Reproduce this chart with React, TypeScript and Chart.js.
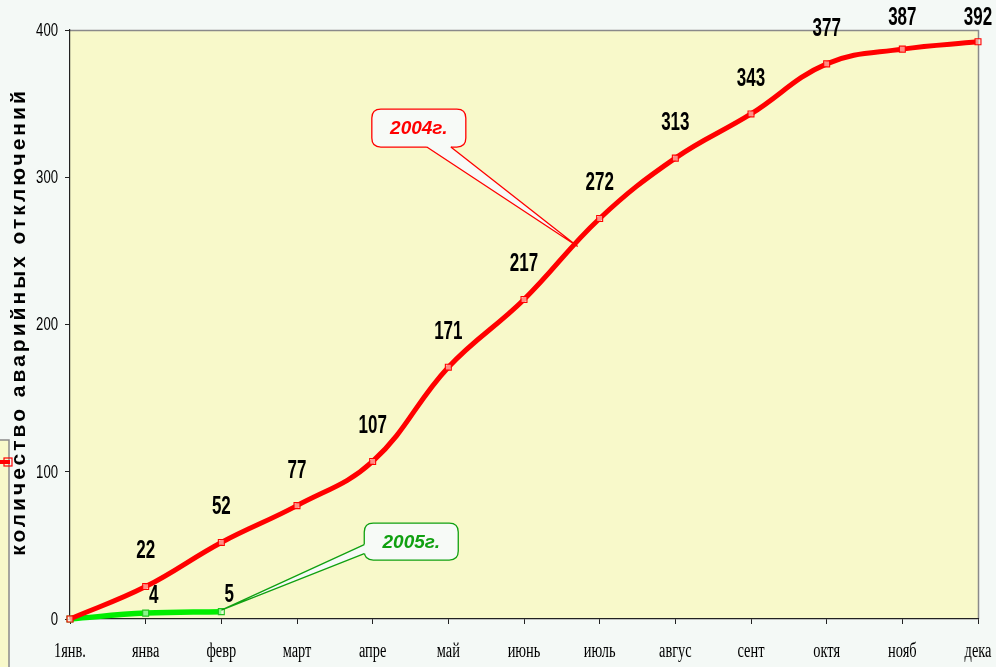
import React, { useEffect, useRef } from 'react';
import { Chart, registerables } from 'chart.js';

Chart.register(...registerables);

const categories = ['1янв.', 'янва', 'февр', 'март', 'апре', 'май', 'июнь', 'июль', 'авгус', 'сент', 'октя', 'нояб', 'дека'];
const values2004 = [0, 22, 52, 77, 107, 171, 217, 272, 313, 343, 377, 387, 392];
const values2005 = [0, 4, 5];
const yTicks = [0, 100, 200, 300, 400];
const yTitle = 'количество аварийных отключений';
const label2004 = '2004г.';
const label2005 = '2005г.';

const PAGE_BG = '#F4F9F6';
const PLOT_BG = '#F8F9CA';
const RED = '#FF0000';
const GREEN = '#00EE00';
const SANS = "'Liberation Sans', Arial, sans-serif";
const SERIF = "'Liberation Serif', 'Times New Roman', serif";

// callouts, anchored in data coordinates (index, value)
const callouts = [
  { text: label2004, color: '#FF0000', box: { i: 4.61, v: 333.4, w: 94, h: 38 }, tip: { i: 6.71, v: 253 }, side: 'bottom', base: [8, 32] },
  { text: label2005, color: '#10A010', box: { i: 4.51, v: 52.6, w: 94, h: 37 }, tip: { i: 2, v: 6 }, side: 'left', base: [3, 12] },
];

function roundRect(ctx: CanvasRenderingContext2D, x: number, y: number, w: number, h: number, r: number) {
  ctx.beginPath();
  ctx.moveTo(x + r, y);
  ctx.lineTo(x + w - r, y);
  ctx.quadraticCurveTo(x + w, y, x + w, y + r);
  ctx.lineTo(x + w, y + h - r);
  ctx.quadraticCurveTo(x + w, y + h, x + w - r, y + h);
  ctx.lineTo(x + r, y + h);
  ctx.quadraticCurveTo(x, y + h, x, y + h - r);
  ctx.lineTo(x, y + r);
  ctx.quadraticCurveTo(x, y, x + r, y);
  ctx.closePath();
}

function narrowText(ctx: CanvasRenderingContext2D, text: string, x: number, y: number, sx: number) {
  ctx.save();
  ctx.translate(x, y);
  ctx.scale(sx, 1);
  ctx.fillText(text, 0, 0);
  ctx.restore();
}

const decorPlugin = {
  id: 'decor',
  beforeDraw(chart: any) {
    const { ctx, chartArea: a, width, height } = chart;
    ctx.save();
    ctx.fillStyle = PAGE_BG;
    ctx.fillRect(0, 0, width, height);
    ctx.fillStyle = PLOT_BG;
    ctx.fillRect(a.left, a.top, a.right - a.left, a.bottom - a.top);
    ctx.strokeStyle = '#8a8a8a';
    ctx.lineWidth = 1.5;
    ctx.beginPath();
    ctx.moveTo(a.left, a.top + 0.5);
    ctx.lineTo(a.right + 0.5, a.top + 0.5);
    ctx.lineTo(a.right + 0.5, a.bottom);
    ctx.stroke();

    // cut-off legend fragment at left edge
    ctx.fillStyle = PLOT_BG;
    ctx.fillRect(0, 440, 9, height - 440);
    ctx.strokeStyle = '#8a8a8a';
    ctx.lineWidth = 1.5;
    ctx.beginPath();
    ctx.moveTo(0, 440);
    ctx.lineTo(9, 440);
    ctx.lineTo(9, height);
    ctx.stroke();
    ctx.strokeStyle = RED;
    ctx.lineWidth = 4;
    ctx.beginPath();
    ctx.moveTo(0, 462);
    ctx.lineTo(10, 462);
    ctx.stroke();
    ctx.lineWidth = 1.2;
    ctx.strokeRect(4, 458, 8, 8);

    // y tick labels (condensed)
    const ys = chart.scales.y;
    ctx.fillStyle = '#000';
    ctx.font = `17.5px ${SANS}`;
    ctx.textAlign = 'right';
    ctx.textBaseline = 'middle';
    yTicks.forEach((v) => {
      narrowText(ctx, String(v), 58, ys.getPixelForValue(v) + 1, 0.75);
    });

    // x tick labels (condensed serif)
    const xs = chart.scales.x;
    ctx.font = `20px ${SERIF}`;
    ctx.textAlign = 'center';
    ctx.textBaseline = 'alphabetic';
    categories.forEach((c, i) => {
      narrowText(ctx, c, xs.getPixelForValue(i), 657, 0.72);
    });

    // y axis title
    ctx.translate(19, 322);
    ctx.rotate(-Math.PI / 2);
    ctx.fillStyle = '#000';
    ctx.font = `bold 21px ${SANS}`;
    (ctx as any).letterSpacing = '3px';
    ctx.textAlign = 'center';
    ctx.textBaseline = 'middle';
    ctx.fillText(yTitle, 0, 0);
    ctx.restore();
  },
  afterDatasetsDraw(chart: any) {
    const { ctx } = chart;
    ctx.save();
    ctx.fillStyle = '#000';
    ctx.font = `bold 25px ${SANS}`;
    ctx.textAlign = 'center';
    ctx.textBaseline = 'middle';
    const m0 = chart.getDatasetMeta(0);
    values2004.forEach((v, i) => {
      if (i === 0) return;
      const p = m0.data[i];
      narrowText(ctx, String(v), p.x, Math.max(18, p.y - 35), 0.68);
    });
    const m1 = chart.getDatasetMeta(1);
    values2005.forEach((v, i) => {
      if (i === 0) return;
      const p = m1.data[i];
      narrowText(ctx, String(v), p.x + 8, p.y - 17, 0.68);
    });

    const xs = chart.scales.x;
    const ys = chart.scales.y;
    const px = (i: number) => xs.left + (i / (categories.length - 1)) * (xs.right - xs.left);
    callouts.forEach((c) => {
      const cx = px(c.box.i);
      const cy = ys.getPixelForValue(c.box.v);
      const x0 = cx - c.box.w / 2;
      const y0 = cy - c.box.h / 2;
      const tx = px(c.tip.i);
      const ty = ys.getPixelForValue(c.tip.v);
      let b1: [number, number], b2: [number, number], b1in: [number, number], b2in: [number, number];
      if (c.side === 'bottom') {
        b1 = [cx + c.base[0], y0 + c.box.h];
        b2 = [cx + c.base[1], y0 + c.box.h];
        b1in = [b1[0], b1[1] - 3];
        b2in = [b2[0], b2[1] - 3];
      } else {
        b1 = [x0, cy + c.base[0]];
        b2 = [x0, cy + c.base[1]];
        b1in = [b1[0] + 3, b1[1]];
        b2in = [b2[0] + 3, b2[1]];
      }
      ctx.fillStyle = '#F7FAF7';
      ctx.strokeStyle = c.color;
      ctx.lineWidth = 1.3;
      roundRect(ctx, x0, y0, c.box.w, c.box.h, 9);
      ctx.fill();
      ctx.stroke();
      ctx.beginPath();
      ctx.moveTo(b1in[0], b1in[1]);
      ctx.lineTo(b1[0], b1[1]);
      ctx.lineTo(tx, ty);
      ctx.lineTo(b2[0], b2[1]);
      ctx.lineTo(b2in[0], b2in[1]);
      ctx.closePath();
      ctx.fill();
      ctx.beginPath();
      ctx.moveTo(b1[0], b1[1]);
      ctx.lineTo(tx, ty);
      ctx.lineTo(b2[0], b2[1]);
      ctx.stroke();
      ctx.fillStyle = c.color;
      ctx.font = `italic bold 19px ${SANS}`;
      ctx.textAlign = 'center';
      ctx.textBaseline = 'middle';
      ctx.fillText(c.text, cx, cy + 1);
    });
    ctx.restore();
  },
};

export default function App() {
  const ref = useRef<HTMLCanvasElement>(null);
  useEffect(() => {
    if (!ref.current) return;
    const chart = new Chart(ref.current, {
      type: 'line',
      data: {
        labels: categories,
        datasets: [
          {
            label: '2004',
            data: values2004,
            borderColor: RED,
            borderWidth: 5,
            tension: 0.4,
            pointStyle: 'rect',
            pointRadius: 4.2,
            pointBorderWidth: 1.1,
            pointBorderColor: RED,
            pointBackgroundColor: 'rgba(255,235,220,0.6)',
            clip: false as any,
          },
          {
            label: '2005',
            data: values2005,
            borderColor: GREEN,
            borderWidth: 5.5,
            tension: 0.4,
            pointStyle: 'rect',
            pointRadius: 4.2,
            pointBorderWidth: 1.1,
            pointBorderColor: '#20C020',
            pointBackgroundColor: 'rgba(230,255,230,0.6)',
            clip: false as any,
          },
        ],
      },
      options: {
        animation: false,
        responsive: false,
        maintainAspectRatio: false,
        layout: { padding: { top: 30, right: 18, left: 0, bottom: 0 } },
        plugins: { legend: { display: false }, tooltip: { enabled: false } },
        scales: {
          x: {
            type: 'category',
            offset: false,
            grid: { display: true, drawOnChartArea: false, tickLength: 5, color: '#222' },
            border: { color: '#222', width: 1.2 },
            ticks: { display: false, autoSkip: false, maxRotation: 0 },
            afterFit: (s: any) => {
              s.height = 48;
              s.paddingLeft = 0;
              s.paddingRight = 0;
            },
          },
          y: {
            min: 0,
            max: 400,
            afterBuildTicks: (s: any) => {
              s.ticks = yTicks.map((v) => ({ value: v }));
            },
            ticks: { display: false },
            grid: { display: true, drawOnChartArea: false, tickLength: 5, color: '#222' },
            border: { color: '#222', width: 1.2 },
            afterFit: (s: any) => {
              s.width = 70;
              s.paddingTop = 0;
              s.paddingBottom = 0;
            },
          },
        },
      },
      plugins: [decorPlugin],
    });
    return () => chart.destroy();
  }, []);
  return (
    <div style={{ position: 'absolute', left: 0, top: 0, width: 996, height: 667 }}>
      <canvas ref={ref} width={996} height={667} style={{ display: 'block', width: 996, height: 667 }} />
    </div>
  );
}
